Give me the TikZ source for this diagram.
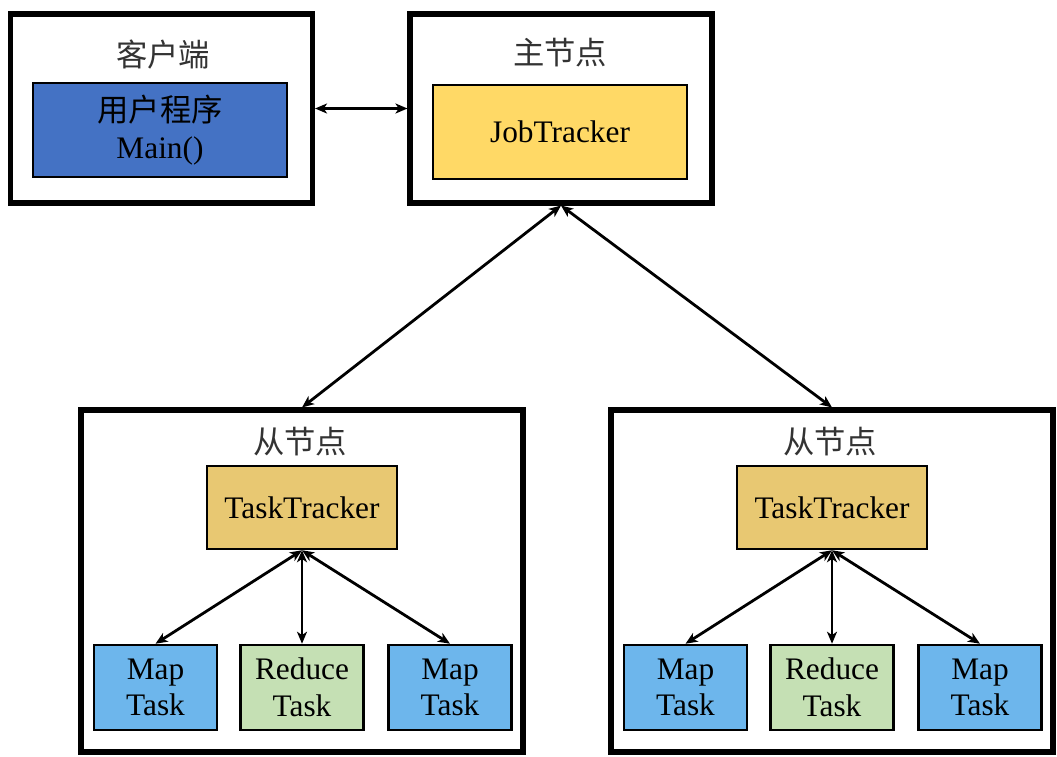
\documentclass[tikz,border=0pt]{standalone}
\usepackage{fontspec}
\setmainfont{Liberation Serif}
\newfontfamily\cjk{Noto Sans CJK SC}
\usetikzlibrary{arrows.meta}

\definecolor{userblue}{HTML}{4472C4}
\definecolor{jobyellow}{HTML}{FFD966}
\definecolor{taskgold}{HTML}{E8C872}
\definecolor{mapblue}{HTML}{6DB6EC}
\definecolor{reducegreen}{HTML}{C5E0B4}
\definecolor{titlegray}{HTML}{333333}

\begin{document}
\begin{tikzpicture}[
    x=0.75pt, y=-0.75pt,
    every node/.style={font=\fontsize{23.5pt}{27.5pt}\selectfont, inner sep=0pt},
    host/.style={draw, line width=3.8pt, minimum width=302*0.75pt, minimum height=189*0.75pt},
    worker/.style={draw, line width=3.8pt, minimum width=442*0.75pt, minimum height=342*0.75pt},
    title/.style={font=\cjk\fontsize{23.5pt}{27.5pt}\selectfont, text=titlegray},
    proc/.style={draw, line width=1.9pt, minimum width=254*0.75pt, minimum height=94*0.75pt, align=center},
    tracker/.style={draw, line width=1.9pt, fill=taskgold, minimum width=190*0.75pt, minimum height=83*0.75pt},
    task/.style={draw, line width=1.9pt, minimum width=123*0.75pt, minimum height=85*0.75pt, align=center},
    link/.style={{Stealth[length=9pt,width=7.5pt,inset=2.5pt]}-{Stealth[length=9pt,width=7.5pt,inset=2.5pt]}, line width=2.1pt}
]

% Page size
\useasboundingbox (0,0) rectangle (1057,757);

% ============================================================
% Client and master
% ============================================================

\node[host] (client) at (161.5,108.5) {};
\node[title] (clienttit) at (163,55) {客户端};
\node[proc, fill=userblue] (user) at (160,130) {{\cjk 用户程序}\\Main()};

\node[host] (master) at (561,108.5) {};
\node[title] (mastertit) at (560,53) {主节点};
\node[proc, fill=jobyellow] (job) at (560,132) {JobTracker};

\draw[link] (client.east) -- (master.west);

% ============================================================
% Worker nodes
% ============================================================

\foreach \name/\cx in {L/302, R/832} {
    \node[worker] (slave\name) at (\cx,581) {};
    \node[title] (slavetit\name) at (\cx-2,442) {从节点};
    \node[tracker] (tracker\name) at (\cx,507.5) {TaskTracker};
    \node[task, fill=mapblue] (mapa\name) at (\cx-146.5,687.5) {Map\\Task};
    \node[task, fill=reducegreen] (red\name) at (\cx,687.5) {Reduce\\Task};
    \node[task, fill=mapblue] (mapb\name) at (\cx+148,687.5) {Map\\Task};

    \draw[link] (tracker\name.south) -- (mapa\name.north);
    \draw[link] (tracker\name.south) -- (red\name.north);
    \draw[link] (tracker\name.south) -- (mapb\name.north);

    \draw[link] (master.south) -- (slave\name.north);
}
\end{tikzpicture}
\end{document}
